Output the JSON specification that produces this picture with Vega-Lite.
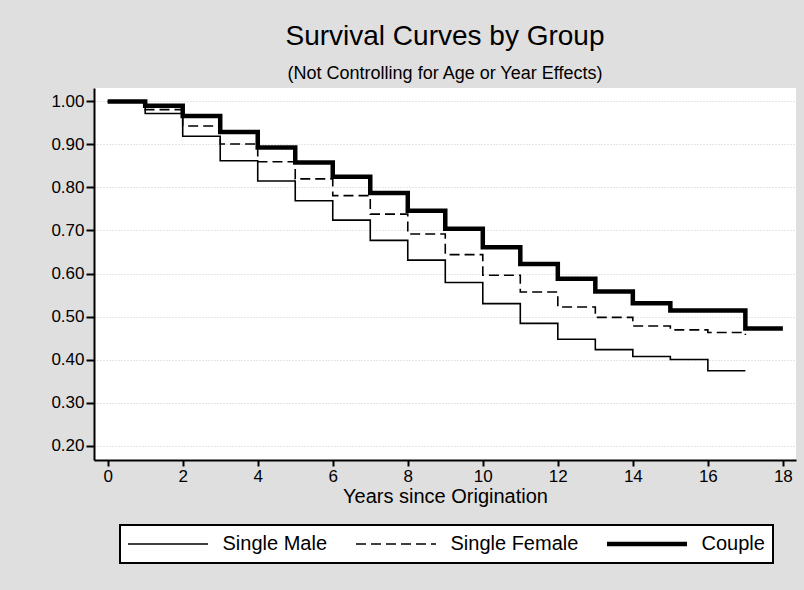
{
  "$schema": "https://vega.github.io/schema/vega-lite/v6.json",
  "width": 702,
  "height": 372,
  "autosize": {"type": "none"},
  "padding": {"left": 94, "top": 88, "right": 8, "bottom": 130},
  "background": "#dfdfdf",
  "title": {
    "text": "Survival Curves by Group",
    "subtitle": "(Not Controlling for Age or Year Effects)",
    "frame": "group",
    "anchor": "middle",
    "offset": 5,
    "font": "Liberation Sans",
    "fontSize": 28,
    "fontWeight": "normal",
    "color": "black",
    "subtitleFont": "Liberation Sans",
    "subtitleFontSize": 18,
    "subtitleColor": "black",
    "subtitlePadding": 14
  },
  "data": {
    "values": [
      {"group": "Couple", "year": 0, "survival": 1.0},
      {"group": "Couple", "year": 1, "survival": 0.99},
      {"group": "Couple", "year": 2, "survival": 0.966},
      {"group": "Couple", "year": 3, "survival": 0.929},
      {"group": "Couple", "year": 4, "survival": 0.893},
      {"group": "Couple", "year": 5, "survival": 0.858},
      {"group": "Couple", "year": 6, "survival": 0.825},
      {"group": "Couple", "year": 7, "survival": 0.787},
      {"group": "Couple", "year": 8, "survival": 0.746},
      {"group": "Couple", "year": 9, "survival": 0.704},
      {"group": "Couple", "year": 10, "survival": 0.661},
      {"group": "Couple", "year": 11, "survival": 0.622},
      {"group": "Couple", "year": 12, "survival": 0.588},
      {"group": "Couple", "year": 13, "survival": 0.558},
      {"group": "Couple", "year": 14, "survival": 0.531},
      {"group": "Couple", "year": 15, "survival": 0.514},
      {"group": "Couple", "year": 16, "survival": 0.514},
      {"group": "Couple", "year": 17, "survival": 0.472},
      {"group": "Couple", "year": 18, "survival": 0.472},
      {"group": "Single Female", "year": 0, "survival": 1.0},
      {"group": "Single Female", "year": 1, "survival": 0.981},
      {"group": "Single Female", "year": 2, "survival": 0.943},
      {"group": "Single Female", "year": 3, "survival": 0.901},
      {"group": "Single Female", "year": 4, "survival": 0.86},
      {"group": "Single Female", "year": 5, "survival": 0.82},
      {"group": "Single Female", "year": 6, "survival": 0.781},
      {"group": "Single Female", "year": 7, "survival": 0.738},
      {"group": "Single Female", "year": 8, "survival": 0.692},
      {"group": "Single Female", "year": 9, "survival": 0.644},
      {"group": "Single Female", "year": 10, "survival": 0.596},
      {"group": "Single Female", "year": 11, "survival": 0.557},
      {"group": "Single Female", "year": 12, "survival": 0.522},
      {"group": "Single Female", "year": 13, "survival": 0.498},
      {"group": "Single Female", "year": 14, "survival": 0.478},
      {"group": "Single Female", "year": 15, "survival": 0.469},
      {"group": "Single Female", "year": 16, "survival": 0.463},
      {"group": "Single Female", "year": 17, "survival": 0.457},
      {"group": "Single Male", "year": 0, "survival": 1.0},
      {"group": "Single Male", "year": 1, "survival": 0.972},
      {"group": "Single Male", "year": 2, "survival": 0.919},
      {"group": "Single Male", "year": 3, "survival": 0.862},
      {"group": "Single Male", "year": 4, "survival": 0.815},
      {"group": "Single Male", "year": 5, "survival": 0.769},
      {"group": "Single Male", "year": 6, "survival": 0.724},
      {"group": "Single Male", "year": 7, "survival": 0.677},
      {"group": "Single Male", "year": 8, "survival": 0.631},
      {"group": "Single Male", "year": 9, "survival": 0.579},
      {"group": "Single Male", "year": 10, "survival": 0.53},
      {"group": "Single Male", "year": 11, "survival": 0.484},
      {"group": "Single Male", "year": 12, "survival": 0.447},
      {"group": "Single Male", "year": 13, "survival": 0.423},
      {"group": "Single Male", "year": 14, "survival": 0.407},
      {"group": "Single Male", "year": 15, "survival": 0.4},
      {"group": "Single Male", "year": 16, "survival": 0.374},
      {"group": "Single Male", "year": 17, "survival": 0.374}
    ]
  },
  "mark": {"type": "line", "interpolate": "step-after", "color": "black"},
  "encoding": {
    "x": {
      "field": "year",
      "type": "quantitative",
      "scale": {"domain": [-0.365, 18.35], "nice": false, "zero": false},
      "axis": {
        "values": [0, 2, 4, 6, 8, 10, 12, 14, 16, 18],
        "title": "Years since Origination",
        "grid": false,
        "domainColor": "black",
        "domainWidth": 2,
        "tickColor": "black",
        "tickWidth": 2,
        "tickSize": 6,
        "labelPadding": 2,
        "labelFont": "Liberation Sans",
        "labelFontSize": 17,
        "labelColor": "black",
        "titleFont": "Liberation Sans",
        "titleFontSize": 20,
        "titleFontWeight": "normal",
        "titleColor": "black",
        "titlePadding": 2
      }
    },
    "y": {
      "field": "survival",
      "type": "quantitative",
      "scale": {"domain": [0.1664, 1.0313], "nice": false, "zero": false},
      "axis": {
        "values": [0.2, 0.3, 0.4, 0.5, 0.6, 0.7, 0.8, 0.9, 1.0],
        "format": ".2f",
        "title": null,
        "grid": true,
        "gridColor": "#cccccc",
        "gridDash": [1, 2],
        "gridWidth": 1,
        "domainColor": "black",
        "domainWidth": 2,
        "tickColor": "black",
        "tickWidth": 2,
        "tickSize": 8,
        "labelPadding": 2,
        "labelFont": "Liberation Sans",
        "labelFontSize": 17,
        "labelColor": "black"
      }
    },
    "strokeDash": {
      "field": "group",
      "type": "nominal",
      "scale": {"domain": ["Single Male", "Single Female", "Couple"], "range": [[1, 0], [10, 5], [1, 0]]},
      "legend": {
        "title": null,
        "orient": "none",
        "legendX": 26,
        "legendY": 437,
        "direction": "horizontal",
        "columns": 3,
        "columnPadding": 28,
        "symbolType": "stroke",
        "symbolSize": 6400,
        "symbolStrokeColor": "black",
        "clipHeight": 22,
        "symbolOffset": -2.5,
        "labelOffset": 12,
        "labelFont": "Liberation Sans",
        "labelFontSize": 20,
        "labelColor": "black",
        "labelLimit": 300,
        "padding": 8,
        "fillColor": "white",
        "strokeColor": "black",
        "encode": {"legend": {"update": {"strokeWidth": {"value": 2}}}}
      }
    },
    "strokeWidth": {
      "field": "group",
      "type": "nominal",
      "scale": {"type": "ordinal", "domain": ["Single Male", "Single Female", "Couple"], "range": [1.6, 1.6, 4.5]},
      "legend": {
        "title": null,
        "orient": "none",
        "legendX": 26,
        "legendY": 437,
        "direction": "horizontal",
        "columns": 3,
        "columnPadding": 28,
        "symbolType": "stroke",
        "symbolSize": 6400,
        "symbolStrokeColor": "black",
        "clipHeight": 22,
        "symbolOffset": -2.5,
        "labelOffset": 12,
        "labelFont": "Liberation Sans",
        "labelFontSize": 20,
        "labelColor": "black",
        "labelLimit": 300,
        "padding": 8,
        "fillColor": "white",
        "strokeColor": "black",
        "encode": {"legend": {"update": {"strokeWidth": {"value": 2}}}}
      }
    }
  },
  "config": {
    "view": {"fill": "white", "stroke": null},
    "font": "Liberation Sans"
  }
}
